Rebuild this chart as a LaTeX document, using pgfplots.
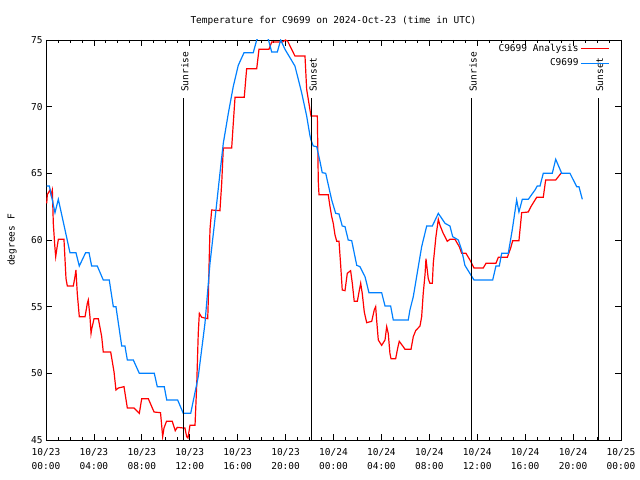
\documentclass[border=0pt]{standalone}
\usepackage{fontspec}
\setmainfont{DejaVu Sans Mono}
\usepackage{pgfplots}
\pgfplotsset{compat=1.18}
\definecolor{obsblue}{RGB}{0,128,255}
\newcommand{\gfont}{\fontsize{9.5bp}{14bp}\selectfont}
\begin{document}
\begin{tikzpicture}
\begin{axis}[
  at={(0,0)}, anchor=south west,
  scale only axis, width=575bp, height=400bp,
  xmin=0, xmax=48, ymin=45, ymax=75,
  xtick={0,4,...,48},
  xticklabels={{10/23\\00:00},{10/23\\04:00},{10/23\\08:00},{10/23\\12:00},{10/23\\16:00},{10/23\\20:00},{10/24\\00:00},{10/24\\04:00},{10/24\\08:00},{10/24\\12:00},{10/24\\16:00},{10/24\\20:00},{10/25\\00:00}},
  minor x tick num=3,
  ytick={45,50,...,75},
  yticklabels={45,50,55,60,65,70,75},
  tick align=inside,
  major tick length=6bp, minor tick length=3bp,
  tick style={black, line width=0.8bp},
  axis line style={black, line width=0.8bp},
  xticklabel style={align=center, font=\gfont, yshift=-5bp},
  yticklabel style={font=\gfont},
  /pgf/number format/assume math mode=true,
  title={Temperature for C9699 on 2024-Oct-23 (time in UTC)},
  title style={at={(axis description cs:0.5,1)}, anchor=base, yshift=11bp, font=\gfont},
  ylabel={degrees F},
  every axis y label/.style={at={(axis description cs:-0.059,0.5)}, rotate=90, anchor=center, font=\gfont},
  legend style={at={(axis description cs:1,1)}, anchor=north east, draw=none, fill=none, inner xsep=0pt, inner ysep=0pt, xshift=-11bp, yshift=-2bp, font=\gfont, row sep=2bp, legend cell align=right},
  legend plot pos=right,
  legend image code/.code={\draw[#1] (0bp,0bp) -- (28bp,0bp);},
]
\addplot[red, line width=1.2bp] coordinates {
(0.06,62.75)(0.11,63.4)(0.33,63.75)(0.42,63.4)(0.53,63.75)(0.61,61.25)(0.73,59.6)(0.81,58.75)(0.89,59.25)(1.03,60.05)(1.50,60.05)(1.67,57.1)(1.78,56.55)(2.28,56.55)(2.42,57.25)(2.50,57.75)(2.61,56.0)(2.78,54.25)(3.26,54.25)(3.45,55.25)(3.53,55.5)(3.67,54.25)(3.76,53.0)(3.81,53.3)(4.01,54.1)(4.37,54.1)(4.65,52.75)(4.78,51.6)(5.40,51.6)(5.68,50.1)(5.84,48.75)(6.04,48.9)(6.51,49.0)(6.79,47.4)(7.35,47.4)(7.79,47.0)(7.99,48.1)(8.54,48.1)(9.02,47.1)(9.56,47.05)(9.74,45.25)(9.85,45.9)(10.06,46.4)(10.54,46.4)(10.79,45.7)(10.96,45.95)(11.46,45.9)(11.60,45.9)(11.74,45.25)(11.85,45.15)(12.02,46.1)(12.44,46.1)(12.58,49.1)(12.71,53.0)(12.80,54.5)(13.00,54.2)(13.50,54.1)(13.55,55.55)(13.61,58.05)(13.69,60.8)(13.83,62.25)(14.52,62.2)(14.67,64.3)(14.80,66.9)(15.50,66.9)(15.63,68.7)(15.78,70.7)(16.55,70.7)(16.75,72.85)(17.59,72.85)(17.78,74.3)(18.61,74.3)(18.84,74.85)(19.74,74.85)(19.99,75.0)(20.18,74.9)(20.78,73.8)(21.62,73.8)(21.76,71.3)(22.12,69.3)(22.65,69.3)(22.73,64.4)(22.79,63.4)(23.56,63.4)(23.71,62.5)(23.85,61.75)(23.98,61.25)(24.12,60.4)(24.27,59.9)(24.46,59.9)(24.60,58.1)(24.73,56.25)(24.96,56.2)(25.15,57.5)(25.43,57.7)(25.57,56.75)(25.73,55.4)(25.99,55.4)(26.13,56.1)(26.27,56.75)(26.40,56.0)(26.57,54.6)(26.77,53.8)(27.19,53.9)(27.40,54.75)(27.52,55.0)(27.60,54.0)(27.74,52.5)(28.02,52.1)(28.30,52.5)(28.44,53.5)(28.57,53.0)(28.71,51.5)(28.80,51.1)(29.19,51.1)(29.36,51.9)(29.49,52.4)(29.82,52.0)(29.97,51.8)(30.47,51.8)(30.66,52.75)(30.86,53.2)(31.22,53.55)(31.36,54.25)(31.49,56.0)(31.64,57.4)(31.72,58.6)(31.91,57.1)(32.05,56.75)(32.25,56.75)(32.33,58.25)(32.55,60.25)(32.75,61.55)(32.89,61.1)(33.16,60.5)(33.50,59.9)(33.72,60.05)(34.14,60.05)(34.50,59.5)(34.70,59.0)(35.06,59.0)(35.39,58.5)(35.73,57.9)(36.50,57.9)(36.73,58.25)(37.56,58.25)(37.76,58.7)(38.51,58.7)(38.79,59.4)(38.96,59.95)(39.48,59.95)(39.71,62.05)(40.26,62.1)(40.48,62.5)(40.96,63.2)(41.51,63.2)(41.71,64.5)(42.55,64.5)(42.99,65.0)
};
\addlegendentry{C9699 Analysis}
\addplot[obsblue, line width=1.2bp] coordinates {
(0.06,64.05)(0.28,64.05)(0.75,62.05)(1.03,63.05)(1.59,60.75)(2.00,59.05)(2.50,59.05)(2.78,58.05)(3.31,59.05)(3.59,59.05)(3.81,58.05)(4.28,58.05)(4.78,57.0)(5.28,57.0)(5.62,55.0)(5.84,55.0)(6.32,52.05)(6.59,52.05)(6.79,51.0)(7.29,51.0)(7.79,50.0)(9.04,50.0)(9.29,49.0)(9.87,49.0)(10.08,48.0)(10.99,48.0)(11.46,47.0)(12.08,47.0)(12.71,49.75)(13.27,53.75)(13.69,58.25)(14.19,62.25)(14.52,65.0)(14.80,67.25)(15.22,69.5)(15.63,71.5)(16.05,73.1)(16.53,74.05)(17.30,74.05)(17.59,75.0)(18.03,75.8)(18.56,75.05)(18.84,74.1)(19.31,74.1)(19.59,75.0)(19.95,74.3)(20.78,73.05)(21.34,71.05)(21.76,69.3)(22.04,67.8)(22.12,67.5)(22.31,67.05)(22.60,67.0)(22.87,65.9)(23.06,65.05)(23.35,65.0)(23.85,63.0)(24.18,62.0)(24.46,61.95)(24.73,61.05)(24.96,61.0)(25.23,60.0)(25.52,59.95)(25.94,58.1)(26.21,58.0)(26.63,57.25)(26.96,56.05)(28.02,56.05)(28.30,55.05)(28.77,55.05)(28.99,54.0)(30.24,54.0)(30.38,54.75)(30.66,55.75)(31.08,58.0)(31.36,59.5)(31.78,61.05)(32.25,61.05)(32.75,62.0)(33.31,61.25)(33.72,61.05)(33.95,60.25)(34.42,60.0)(34.70,59.25)(34.97,58.1)(35.45,57.4)(35.73,57.0)(37.29,57.0)(37.56,58.05)(37.84,58.05)(38.04,59.0)(38.59,59.0)(38.92,60.75)(39.29,63.0)(39.48,62.1)(39.76,63.05)(40.26,63.05)(40.82,63.75)(41.01,64.05)(41.24,64.05)(41.51,65.0)(42.26,65.0)(42.55,66.05)(43.05,65.0)(43.74,65.0)(44.30,64.0)(44.49,64.0)(44.77,63.05)
};
\addlegendentry{C9699}
% sunrise / sunset markers
\addplot[black, line width=0.9bp, forget plot] coordinates {(11.46,45) (11.46,70.65)};
\addplot[black, line width=0.9bp, forget plot] coordinates {(22.18,45) (22.18,70.65)};
\addplot[black, line width=0.9bp, forget plot] coordinates {(35.53,45) (35.53,70.65)};
\addplot[black, line width=0.9bp, forget plot] coordinates {(46.10,45) (46.10,70.65)};
\node[rotate=90, anchor=west, inner sep=0pt, font=\gfont] at ([xshift=1.5bp]axis cs:11.46,71.1) {Sunrise};
\node[rotate=90, anchor=west, inner sep=0pt, font=\gfont] at ([xshift=1.5bp]axis cs:22.18,71.1) {Sunset};
\node[rotate=90, anchor=west, inner sep=0pt, font=\gfont] at ([xshift=1.5bp]axis cs:35.53,71.1) {Sunrise};
\node[rotate=90, anchor=west, inner sep=0pt, font=\gfont] at ([xshift=1.5bp]axis cs:46.10,71.1) {Sunset};
\end{axis}
\pgfresetboundingbox
\path (-46bp,-40bp) rectangle (594bp,440bp);
\end{tikzpicture}
\end{document}
